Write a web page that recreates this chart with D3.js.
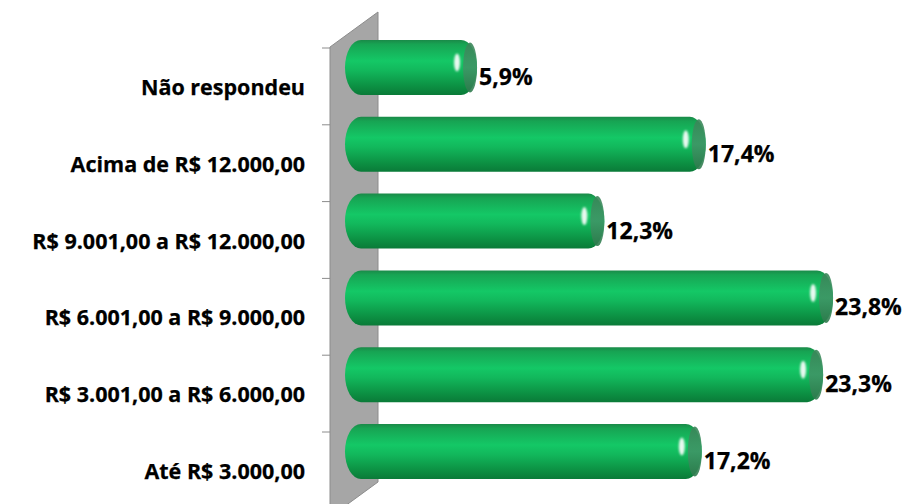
<!DOCTYPE html>
<html>
<head>
<meta charset="utf-8">
<script src="https://cdn.jsdelivr.net/npm/d3@7"></script>
<style>
  html, body { margin: 0; padding: 0; background: #fff; }
  svg { display: block; }
  text { font-family: "Open Sans", Lato, sans-serif; font-weight: 700; fill: #000; stroke: #000; stroke-width: 0.25px; }
</style>
</head>
<body>
<svg id="chart" width="903" height="504"></svg>
<script>
// Data (top to bottom as displayed)
const categories = [
  "Não respondeu",
  "Acima de R$ 12.000,00",
  "R$ 9.001,00 a R$ 12.000,00",
  "R$ 6.001,00 a R$ 9.000,00",
  "R$ 3.001,00 a R$ 6.000,00",
  "Até R$ 3.000,00"
];
const values = [5.9, 17.4, 12.3, 23.8, 23.3, 17.2];
const valueLabels = ["5,9%", "17,4%", "12,3%", "23,8%", "23,3%", "17,2%"];

const svg = d3.select("#chart");

const x = d3.scaleLinear().domain([0, 25]).range([359.7, 359.7 + 19.89 * 25]);
const y = d3.scaleBand().domain(categories).range([48, 48 + 6 * 76.8]).padding(0);

const defs = svg.append("defs");
const g = defs.append("linearGradient").attr("id", "cyl").attr("x1", 0).attr("y1", 0).attr("x2", 0).attr("y2", 1);
[[0, "#1a8a48"], [0.08, "#17a453"], [0.38, "#14c866"], [0.55, "#12b85c"], [0.85, "#0c8f42"], [1, "#0a7a38"]]
  .forEach(([o, c]) => g.append("stop").attr("offset", o).attr("stop-color", c));
const capG = defs.append("linearGradient").attr("id", "cap").attr("x1", 0).attr("y1", 0).attr("x2", 0).attr("y2", 1);
[[0, "#3a8558"], [0.5, "#3f9566"], [1, "#2f7a4d"]]
  .forEach(([o, c]) => capG.append("stop").attr("offset", o).attr("stop-color", c));
const blur = defs.append("filter").attr("id", "blur").attr("x", "-1").attr("y", "-1").attr("width", 3).attr("height", 3);
blur.append("feGaussianBlur").attr("stdDeviation", 1.3);

// Grey wall
const wallL = 330, wallR = 378, slope = 35;
svg.append("polygon")
  .attr("points", [[wallL, 47], [wallR, 47 - slope], [wallR, 482], [wallL, 482 + slope]].map(p => p.join(",")).join(" "))
  .attr("fill", "#a6a6a6").attr("stroke", "#8c8c8c").attr("stroke-width", 1);

// Tick marks
const ticks = categories.map(c => y(c));
svg.selectAll("line.tick").data(ticks).join("line")
  .attr("x1", 322).attr("x2", wallL).attr("y1", d => d).attr("y2", d => d)
  .attr("stroke", "#8c8c8c").attr("stroke-width", 1);

// Category labels
svg.selectAll("text.cat").data(categories).join("text")
  .attr("class", "cat")
  .attr("x", 305)
  .attr("y", d => y(d) + y.bandwidth() / 2 + 8.5)
  .attr("text-anchor", "end")
  .style("font-size", "21.5px")
  .text(d => d);

// Bars
const barH = 55, barOff = -8, startX = 345;
const bars = svg.selectAll("g.bar").data(values).join("g").attr("class", "bar");
bars.append("rect")
  .attr("x", startX)
  .attr("y", (d, i) => y(categories[i]) + barOff)
  .attr("width", d => x(d) - startX)
  .attr("height", barH)
  .attr("rx", 16).attr("ry", 27.5)
  .attr("fill", "url(#cyl)");
bars.append("ellipse")
  .attr("cx", d => x(d) - 7)
  .attr("cy", (d, i) => y(categories[i]) + barOff + barH / 2)
  .attr("rx", 7).attr("ry", 25)
  .attr("fill", "url(#cap)").attr("opacity", 0.9);
bars.append("ellipse")
  .attr("cx", d => x(d) - 20)
  .attr("cy", (d, i) => y(categories[i]) + barOff + barH / 2 - 5)
  .attr("rx", 3).attr("ry", 9)
  .attr("fill", "#ffffff").attr("opacity", 0.9)
  .attr("filter", "url(#blur)");

// Value labels
svg.selectAll("text.val").data(values).join("text")
  .attr("class", "val")
  .attr("x", d => x(d) + 2)
  .attr("y", (d, i) => y(categories[i]) + barOff + barH / 2 + 17.5)
  .style("font-size", "23px")
  .text((d, i) => valueLabels[i]);
</script>
</body>
</html>
